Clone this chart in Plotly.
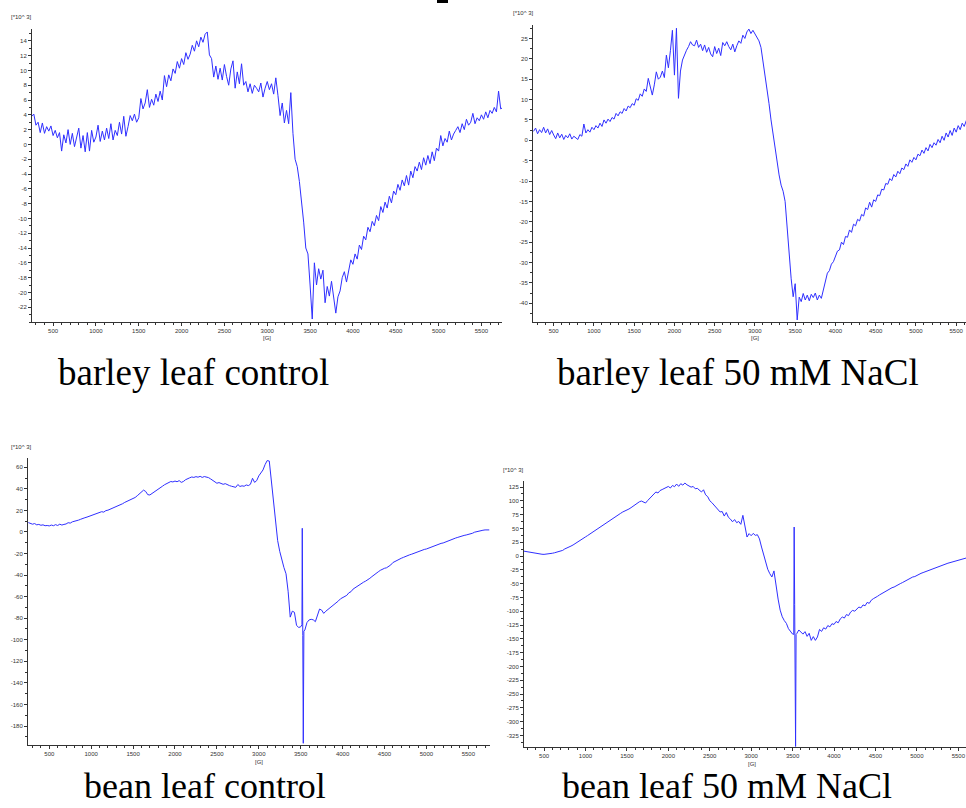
import plotly.graph_objects as go

W, H = 966, 808
FIELD_START = 250   # G, first sample
FIELD_STEP = 25     # G between samples

# ---------------- data (units of 10^3) ----------------
barley_control = [
    3.8, 4.1, 2.6, 3.0, 1.6, 2.9, 1.5, 2.4, 1.8, 2.5,
    1.2, 1.9, 0.9, 1.6, -0.9, 1.3, 0.2, 2.0, 0.0, 1.5,
    -0.3, 0.8, 2.2, -0.5, 1.2, -1.0, 1.6, -0.9, 1.9, 0.3,
    1.0, 2.6, 0.4, 1.8, 0.6, 2.2, 0.8, 2.8, 0.6, 1.9,
    1.2, 3.0, 1.4, 3.8, 1.1, 2.4, 3.9, 3.2, 4.1, 3.0,
    3.6, 6.2, 4.8, 5.6, 7.4, 5.0, 6.1, 5.3, 6.8, 5.8,
    7.2, 6.0, 9.3, 7.8, 9.4, 8.6, 10.2, 9.6, 11.2, 10.3,
    11.6, 10.8, 12.4, 11.5, 12.2, 13.4, 12.6, 14.0, 13.2, 14.5,
    13.8, 14.9, 15.2, 12.1, 11.6, 9.1, 10.6, 8.8, 10.3, 8.7,
    10.8, 9.2, 8.0, 10.2, 11.3, 7.6, 9.8, 8.2, 10.9, 8.0,
    8.5, 7.1, 8.2, 6.9, 8.0, 7.6, 7.1, 8.3, 6.4, 7.6,
    8.5, 7.4, 8.2, 6.8, 9.0, 6.6, 3.9, 5.6, 2.9, 4.6,
    2.8, 7.0, 1.5, -2.0, -3.0, -5.0, -7.5, -10.5, -14.0, -14.8,
    -19.0, -23.6, -16.0, -19.0, -16.8, -18.2, -17.0, -21.4, -19.2, -20.5,
    -18.5, -20.8, -22.8, -20.6, -19.8, -18.0, -17.2, -18.6, -16.9, -15.6,
    -16.2, -14.8, -15.5, -13.6, -14.2, -12.4, -12.9, -11.2, -11.8, -10.4,
    -11.0, -9.6, -10.3, -8.4, -9.2, -7.8, -8.6, -7.0, -7.9, -6.3,
    -6.8, -5.4, -6.2, -4.8, -5.6, -4.2, -5.5, -3.6, -4.5, -3.0,
    -3.6, -2.4, -3.4, -1.8, -2.8, -1.5, -2.6, -1.0, -2.2, -0.5,
    -0.9, 1.2, -0.2, 0.8, 0.3, 1.8, 0.6, 1.4, 1.9, 2.4,
    1.6, 2.8, 2.0, 3.4, 2.6, 3.0, 4.2, 2.8, 3.6, 3.2,
    4.0, 3.4, 4.4, 3.6, 4.6, 4.2, 5.0, 4.4, 7.2, 4.8,
    5.0,
]

barley_nacl = [
    2.2, 3.0, 1.6, 2.6, 1.9, 3.2, 1.8, 2.8, 1.4, 2.4,
    1.3, 0.4, 1.8, 0.6, 1.5, 0.2, 1.2, 0.6, 1.6, 0.3,
    1.0, 0.5, 0.2, 1.4, 1.0, 4.0, 1.8, 2.6, 2.0, 3.2,
    2.6, 3.6, 3.0, 4.2, 3.4, 5.0, 4.2, 5.2, 4.6, 5.6,
    5.2, 6.6, 6.0, 7.0, 6.6, 7.8, 7.2, 8.4, 8.0, 9.0,
    8.6, 10.2, 9.8, 11.4, 10.8, 12.6, 12.0, 15.2, 12.8, 11.1,
    13.6, 16.8, 15.0, 15.5, 17.0, 15.4, 20.9, 17.8, 22.0, 27.0,
    16.0, 27.5, 10.3, 17.0, 19.7, 21.0, 22.1, 23.0, 24.2, 23.4,
    23.2, 24.6, 22.8, 23.6, 22.0, 23.4, 21.6, 22.8, 21.2, 20.5,
    23.0, 21.3, 22.6, 20.8, 24.0, 23.2, 24.2, 23.0, 22.2, 23.6,
    21.7, 23.2, 24.4, 23.8, 25.8, 25.0, 26.6, 27.3, 26.2, 27.0,
    26.0, 25.2, 24.4, 22.8, 19.5, 15.8, 12.6, 9.0, 5.0, 1.5,
    -2.5, -6.0, -8.5, -11.0, -12.5, -15.0, -22.0, -29.0, -34.0, -38.4,
    -35.2, -44.1, -38.5, -39.6, -37.6, -39.2, -38.0, -39.4, -37.8, -38.6,
    -37.5, -39.2, -38.0, -38.8, -36.8, -35.2, -32.6, -32.0, -30.4, -29.8,
    -28.5, -27.2, -26.9, -25.0, -25.6, -23.6, -23.8, -22.0, -22.6, -20.6,
    -21.0, -19.4, -19.8, -18.2, -18.6, -16.6, -17.0, -15.2, -16.4, -14.6,
    -15.0, -13.4, -13.6, -12.0, -12.2, -10.6, -10.8, -9.4, -9.9, -8.4,
    -9.0, -7.6, -8.2, -6.8, -7.2, -5.8, -6.4, -4.8, -5.4, -4.2,
    -4.8, -3.4, -3.8, -2.4, -3.2, -1.8, -2.6, -1.0, -1.8, -0.6,
    -1.2, 0.2, -0.6, 1.0, 0.0, 1.8, 0.8, 2.4, 1.2, 3.0,
    2.0, 3.6, 2.6, 4.2, 3.4, 4.8, 4.0, 5.6, 4.8, 6.2,
    6.0,
]

bean_control = [
    8.7, 8.0, 7.2, 7.8, 6.6, 7.0, 6.2, 6.6, 5.8, 6.0,
    5.6, 6.4, 5.8, 6.8, 6.0, 7.2, 6.4, 7.0, 7.4, 8.6,
    8.2, 9.4, 9.8, 10.4, 11.0, 11.8, 12.2, 13.2, 13.8, 14.6,
    15.0, 15.8, 16.4, 17.6, 18.2, 18.8, 18.4, 19.8, 20.2, 21.0,
    21.8, 22.8, 23.6, 24.4, 25.6, 26.2, 27.4, 28.2, 29.4, 30.2,
    31.2, 32.0, 33.6, 35.4, 37.2, 38.8, 37.6, 34.6, 34.3, 35.6,
    36.4, 37.8, 39.6, 40.5, 42.4, 43.8, 44.6, 45.8, 46.8, 46.4,
    47.2, 46.6, 47.6, 46.0, 46.8, 48.4, 49.6, 50.2, 51.0, 50.6,
    51.3, 50.8, 51.6, 50.6, 51.4, 51.0, 50.4, 49.2, 47.8, 46.4,
    45.2, 45.8, 44.6, 44.2, 44.8, 43.6, 43.0, 42.4, 41.6, 41.4,
    44.0, 42.2, 42.8, 42.4, 43.6, 43.0, 44.2, 49.8, 46.0, 47.6,
    52.0, 55.0, 57.5, 62.5, 66.2, 65.8, 48.0, 28.0, 8.0, -8.0,
    -18.0, -26.0, -33.0, -38.8, -55.0, -79.0, -73.5, -74.5, -86.5, -88.6,
    -88.0, -96.0, -90.9, -84.0, -81.6, -81.0, -81.5, -83.2, -77.0, -71.5,
    -72.5, -75.5, -73.5, -72.0, -70.0, -68.4, -67.2, -65.4, -64.0, -62.0,
    -61.0, -59.6, -58.8, -56.4, -55.4, -53.0, -51.6, -50.8, -49.4, -48.0,
    -46.6, -45.6, -44.5, -43.0, -41.4, -40.2, -38.6, -37.0, -35.6, -34.4,
    -33.7, -33.2, -32.0, -30.6, -28.4, -27.2, -26.0, -25.0, -24.4, -23.6,
    -22.6, -22.0, -21.2, -20.6, -19.8, -19.4, -18.3, -17.6, -17.0, -16.2,
    -15.8, -15.0, -14.4, -13.6, -13.0, -12.0, -11.4, -10.6, -10.2, -9.4,
    -8.4, -7.4, -7.0, -6.4, -5.6, -5.0, -4.2, -3.8, -3.2, -2.8,
    -2.4, -1.6, -1.2, -0.2, 0.4, 0.8, 1.4, 1.6, 1.9, 2.2,
    1.9,
]
bean_control_spike_field = [3515, 3519, 3531, 3538]
bean_control_spike_value = [-86.0, 3.4, -196.0, -92.0]

bean_nacl = [
    9.0, 8.2, 7.4, 6.6, 5.8, 5.0, 4.4, 4.0, 3.6, 3.2,
    3.0, 3.2, 3.6, 4.2, 5.0, 5.8, 6.8, 7.8, 9.0, 10.2,
    12.8, 14.2, 16.0, 18.0, 20.0, 22.2, 24.4, 26.8, 29.2, 31.8,
    34.6, 37.0, 39.6, 42.2, 44.6, 47.4, 50.0, 52.6, 55.4, 58.0,
    60.6, 63.4, 65.8, 68.6, 70.8, 73.2, 75.6, 77.4, 79.8, 81.4,
    82.7, 85.2, 87.6, 90.4, 92.6, 95.8, 98.2, 99.6, 97.0, 96.0,
    100.4, 104.0, 108.6, 111.2, 116.0, 114.2, 118.6, 120.4, 121.8, 124.6,
    126.0, 123.2, 127.8, 125.6, 130.4, 126.2, 131.0, 128.4, 132.2, 129.0,
    127.4, 124.8, 126.0, 121.8, 122.6, 119.0, 116.0, 120.0, 110.8, 107.6,
    100.2, 96.8, 92.4, 88.0, 85.6, 79.8, 80.6, 72.4, 78.8, 70.2,
    66.8, 62.0, 66.0, 60.4, 62.6, 57.4, 73.7, 55.0, 34.4, 40.6,
    36.8, 41.0, 37.4, 38.6, 31.0, 16.3, 2.0, -13.0, -24.0, -32.0,
    -38.0, -27.0, -58.0, -78.0, -98.0, -110.0, -117.0, -122.0, -131.6, -137.0,
    -141.5, -87.8, -140.6, -134.0, -137.7, -141.5, -137.0, -145.6, -140.0, -152.8,
    -146.0, -152.8, -146.7, -133.0, -136.6, -130.0, -132.4, -126.0, -128.4, -122.6,
    -124.0, -118.6, -121.0, -114.0, -110.5, -112.4, -106.0, -108.0, -101.6, -98.5,
    -100.0, -95.4, -92.4, -94.0, -88.6, -90.2, -84.0, -85.8, -80.0, -77.3,
    -74.3, -73.0, -70.4, -68.0, -66.4, -63.2, -61.8, -59.0, -57.4, -56.2,
    -53.8, -52.0, -50.0, -48.2, -46.0, -44.6, -42.4, -40.8, -38.0, -37.2,
    -34.8, -33.2, -31.4, -30.0, -28.6, -27.0, -25.4, -23.0, -22.4, -20.8,
    -19.6, -18.0, -17.2, -15.8, -14.6, -13.0, -12.0, -10.9, -9.8, -8.6,
    -7.6, -6.4, -5.4, -4.6, -3.0, -2.0, -1.0, 0.2, 1.0, 2.0,
    3.0,
]
bean_nacl_spike_field = [3514, 3519, 3536, 3542]
bean_nacl_spike_value = [-142.0, 52.5, -345.0, -142.0]

captions = ["barley leaf control", "barley leaf 50 mM NaCl",
            "bean leaf control", "bean leaf 50 mM NaCl"]
x_ticks = [500, 1000, 1500, 2000, 2500, 3000, 3500, 4000, 4500, 5000, 5500]
y_ticks_barley_control = [-22, -20, -18, -16, -14, -12, -10, -8, -6, -4, -2,
                          0, 2, 4, 6, 8, 10, 12, 14]
y_ticks_barley_nacl = [-40, -35, -30, -25, -20, -15, -10, -5, 0, 5, 10, 15, 20, 25]
y_ticks_bean_control = [-180, -160, -140, -120, -100, -80, -60, -40, -20, 0, 20, 40, 60]
y_ticks_bean_nacl = [-325, -300, -275, -250, -225, -200, -175, -150, -125, -100,
                     -75, -50, -25, 0, 25, 50, 75, 100, 125]
y_unit = "[*10^ 3]"
x_unit = "[G]"


def build(values, extra_f=(), extra_v=()):
    fields = [FIELD_START + i * FIELD_STEP for i in range(len(values))]
    pts = sorted(list(zip(fields, values)) + list(zip(extra_f, extra_v)))
    return [p[0] for p in pts], [p[1] for p in pts]


series = [
    build(barley_control),
    build(barley_nacl),
    build(bean_control, bean_control_spike_field, bean_control_spike_value),
    build(bean_nacl, bean_nacl_spike_field, bean_nacl_spike_value),
]
y_tick_sets = [y_ticks_barley_control, y_ticks_barley_nacl,
               y_ticks_bean_control, y_ticks_bean_nacl]

# ---------------- layout (pixel boxes of the four plot areas) ----------------
boxes = [  # left, right, top, bottom in px
    (32, 502, 29, 322),
    (533, 966, 25, 322),
    (28, 490, 458, 745),
    (524, 966, 481, 747),
]
x_ranges = [(254, 5740), (243, 5622), (246, 5759), (258, 5593)]
y_ranges = [(-24.0, 15.6), (-44.6, 28.3), (-197.6, 68.6), (-346.0, 135.9)]
y_minor = [1, 2.5, 10, 12.5]
unit_pos = [(21, 17), (523, 13), (21, 447), (513, 470)]
g_pos = [(267, 338), (755, 338), (259, 762), (752, 764)]
caption_pos = [(193, 372), (738, 372), (205, 786), (727, 786)]
caption_size = [37, 37, 36, 36]

LINE = "#2f2fff"
AXIS = "#333333"
TICKFONT = dict(family="Liberation Sans, Arial, sans-serif", size=6, color="#333333")


def px(x):
    return x / W


def py(y):
    return 1 - y / H


fig = go.Figure()
layout = dict(
    width=W, height=H,
    margin=dict(l=0, r=0, t=0, b=0),
    paper_bgcolor="white", plot_bgcolor="white",
    showlegend=False,
)
annotations = []
for i, (xs, ys) in enumerate(series):
    n = "" if i == 0 else str(i + 1)
    fig.add_trace(go.Scatter(
        x=xs, y=ys, mode="lines",
        line=dict(color=LINE, width=1),
        xaxis="x" + n, yaxis="y" + n, hoverinfo="skip",
    ))
    l, r, t, b = boxes[i]
    layout["xaxis" + n] = dict(
        domain=[px(l), px(r)], range=list(x_ranges[i]), anchor="y" + n,
        showline=True, linecolor=AXIS, linewidth=1, mirror=False,
        showgrid=False, zeroline=False,
        ticks="outside", ticklen=3, tickcolor=AXIS, tickwidth=1,
        tickmode="array", tickvals=x_ticks, ticktext=[str(v) for v in x_ticks],
        tickfont=TICKFONT,
        minor=dict(tickmode="linear", tick0=0, dtick=100, ticks="outside",
                   ticklen=2, tickcolor=AXIS, showgrid=False),
    )
    layout["yaxis" + n] = dict(
        domain=[py(b), py(t)], range=list(y_ranges[i]), anchor="x" + n,
        showline=True, linecolor=AXIS, linewidth=1, mirror=False,
        showgrid=False, zeroline=False,
        ticks="outside", ticklen=3, tickcolor=AXIS, tickwidth=1,
        tickmode="array", tickvals=y_tick_sets[i],
        ticktext=[str(v) for v in y_tick_sets[i]],
        tickfont=TICKFONT,
        minor=dict(tickmode="linear", tick0=0, dtick=y_minor[i], ticks="outside",
                   ticklen=2, tickcolor=AXIS, showgrid=False),
    )
    ux, uy = unit_pos[i]
    annotations.append(dict(text=y_unit, x=px(ux), y=py(uy), xref="paper", yref="paper",
                            showarrow=False, xanchor="center", yanchor="middle",
                            font=TICKFONT))
    gx, gy = g_pos[i]
    annotations.append(dict(text=x_unit, x=px(gx), y=py(gy), xref="paper", yref="paper",
                            showarrow=False, xanchor="center", yanchor="middle",
                            font=TICKFONT))
    cx, cy = caption_pos[i]
    annotations.append(dict(text=captions[i], x=px(cx), y=py(cy), xref="paper", yref="paper",
                            showarrow=False, xanchor="center", yanchor="middle",
                            borderpad=0,
                            font=dict(family="Liberation Serif, Times New Roman, serif",
                                      size=caption_size[i], color="black")))

layout["annotations"] = annotations
layout["shapes"] = [dict(type="line", xref="paper", yref="paper",
                         x0=px(437), x1=px(448), y0=py(1.5), y1=py(1.5),
                         line=dict(color="black", width=3))]
fig.update_layout(**layout)
fig.write_html("out.html",
               config={"displayModeBar": False, "staticPlot": True},
               post_script="document.body.style.margin='0';"
                           "document.body.style.overflow='hidden';")
